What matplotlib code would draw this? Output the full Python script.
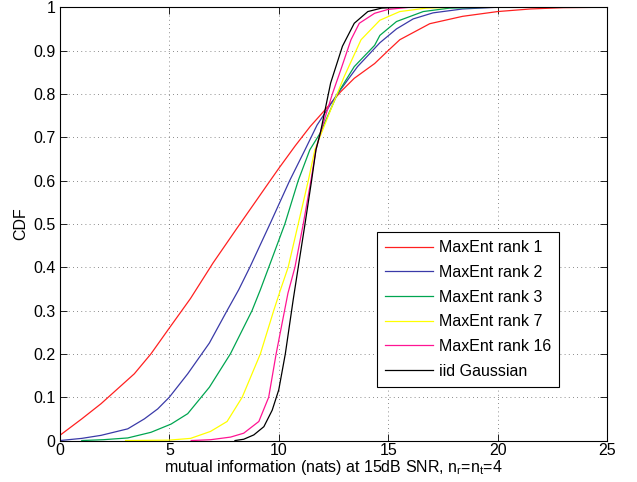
import matplotlib
matplotlib.use("Agg")
import matplotlib.pyplot as plt

plt.rcParams['font.family'] = ['Liberation Sans', 'DejaVu Sans']
plt.rcParams['mathtext.default'] = 'regular'

# CDF curves (x = mutual information in nats)
r1_x = [0, 1, 1.88, 3.4, 4.16, 4.92, 5.97, 7.0, 8.05, 8.99, 9.5, 10, 10.75, 11.44, 12.06,
        12.83, 13.45, 14.38, 15.0, 15.53, 16.9, 18.4, 20.0, 21.5, 23.0, 25]
r1_y = [0.012, 0.05, 0.085, 0.154, 0.20, 0.254, 0.328, 0.41, 0.487, 0.555, 0.592, 0.628, 0.68,
        0.725, 0.76, 0.805, 0.836, 0.87, 0.90, 0.925, 0.962, 0.979, 0.99, 0.996, 0.999, 1.0]

r2_x = [0, 1, 1.88, 3.1, 3.86, 4.47, 5, 5.84, 6.83, 7.64, 8.17, 8.68, 9.6, 10.5, 11.2, 11.75,
        12.68, 13.6, 14.62, 15.38, 16.14, 17.05, 18.4, 20, 25]
r2_y = [0, 0.005, 0.012, 0.027, 0.05, 0.073, 0.10, 0.154, 0.225, 0.30, 0.348, 0.40, 0.50, 0.60,
        0.671, 0.728, 0.80, 0.863, 0.918, 0.95, 0.973, 0.987, 0.996, 1.0, 1.0]

r3_x = [1, 2, 3.1, 4.16, 5.08, 5.84, 6.83, 7.79, 8.78, 9.16, 9.67, 10.28, 10.89, 11.42, 11.9,
        12.68, 13.45, 14.38, 14.62, 15.38, 16.6, 17.8, 20, 25]
r3_y = [0, 0.002, 0.006, 0.019, 0.038, 0.062, 0.123, 0.20, 0.30, 0.348, 0.417, 0.50, 0.60, 0.671,
        0.71, 0.80, 0.863, 0.912, 0.935, 0.967, 0.99, 0.998, 1, 1]

r7_x = [3, 5.0, 5.97, 6.88, 7.64, 8.33, 9.16, 9.77, 10.08, 10.43, 10.89, 11.35, 11.65, 12.37,
        12.99, 13.76, 14.62, 15.53, 16.75, 18, 25]
r7_y = [0, 0.001, 0.005, 0.021, 0.044, 0.10, 0.20, 0.30, 0.348, 0.40, 0.50, 0.60, 0.671, 0.763,
        0.84, 0.925, 0.97, 0.99, 0.998, 1, 1]

r16_x = [6, 6.9, 7.8, 8.4, 9.09, 9.54, 9.88, 10.15, 10.42, 10.74, 11.12, 11.47, 11.7, 11.9,
         12.45, 12.83, 13.3, 13.68, 14.38, 15, 16, 25]
r16_y = [0, 0.002, 0.008, 0.017, 0.044, 0.10, 0.20, 0.27, 0.34, 0.40, 0.50, 0.60, 0.671, 0.71,
         0.80, 0.855, 0.925, 0.963, 0.986, 0.995, 1, 1]

iid_x = [8, 8.4, 8.86, 9.32, 9.7, 10.0, 10.3, 10.66, 10.89, 11.2, 11.5, 11.7, 11.9, 12.37,
         12.91, 13.45, 14.07, 14.7, 15.5, 25]
iid_y = [0, 0.003, 0.013, 0.032, 0.07, 0.117, 0.20, 0.325, 0.40, 0.50, 0.60, 0.671, 0.71, 0.825,
         0.91, 0.963, 0.99, 0.998, 1, 1]

labels = ["MaxEnt rank 1", "MaxEnt rank 2", "MaxEnt rank 3",
          "MaxEnt rank 7", "MaxEnt rank 16", "iid Gaussian"]
colors = ["#ff2020", "#3a3aa8", "#00a550", "#ffff00", "#ff1493", "#000000"]

x_ticks = [0, 5, 10, 15, 20, 25]
y_ticks = [0, 0.1, 0.2, 0.3, 0.4, 0.5, 0.6, 0.7, 0.8, 0.9, 1]
y_ticklabels = ["0", "0.1", "0.2", "0.3", "0.4", "0.5", "0.6", "0.7", "0.8", "0.9", "1"]

fs = 11.5

fig = plt.figure(figsize=(6.37, 4.82), dpi=100)
ax = fig.add_axes([0.094, 0.086, 0.859, 0.899])

series = [(r1_x, r1_y), (r2_x, r2_y), (r3_x, r3_y), (r7_x, r7_y), (r16_x, r16_y), (iid_x, iid_y)]
for (xs, ys), lab, c in zip(series, labels, colors):
    ax.plot(xs, ys, color=c, lw=0.9, label=lab)

ax.set_xlim(0, 25)
ax.set_ylim(0, 1)
ax.set_xticks(x_ticks)
ax.set_yticks(y_ticks)
ax.set_yticklabels(y_ticklabels)
ax.tick_params(direction='in', top=True, right=True, labelsize=fs, length=5, width=0.6, pad=3)
ax.tick_params(axis='x', pad=2)
ax.grid(True, linestyle=(0, (1, 4)), color='0.4', lw=0.6)
for s in ax.spines.values():
    s.set_linewidth(0.8)

ax.set_xlabel("mutual information (nats) at 15dB SNR, n$_r$=n$_t$=4", fontsize=fs, labelpad=0)
ax.set_ylabel("CDF", fontsize=fs, labelpad=4)

leg = ax.legend(loc='lower left', bbox_to_anchor=(0.579, 0.124), fontsize=fs,
                fancybox=False, framealpha=1, edgecolor='black', handlelength=3.0,
                handletextpad=0.4, labelspacing=0.61, borderpad=0.5, borderaxespad=0)
leg.get_frame().set_linewidth(0.8)

fig.savefig("out.png", dpi=100)
